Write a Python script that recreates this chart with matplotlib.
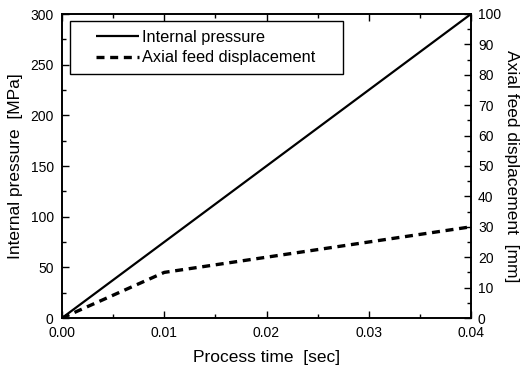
import matplotlib
matplotlib.use("Agg")
import matplotlib.pyplot as plt
from matplotlib.ticker import MultipleLocator
from matplotlib.patches import Rectangle

plt.rcParams['font.family'] = ['Liberation Sans', 'DejaVu Sans']

time_s = [0.0, 0.04]
pressure_mpa = [0.0, 300.0]
feed_time_s = [0.0, 0.01, 0.04]
feed_mm = [0.0, 15.0, 30.0]

fig = plt.figure(figsize=(5.23, 3.71), dpi=100)
ax = fig.add_axes([62/523, 1-318/371, (471-62)/523, (318-14)/371])
ax2 = ax.twinx()

l1, = ax.plot(time_s, pressure_mpa, color='black', lw=1.6, solid_capstyle='butt')
l2, = ax2.plot(feed_time_s, feed_mm, color='black', lw=2.4, linestyle=(0, (2.4, 1.7)))

ax.set_xlim(0, 0.04)
ax.set_ylim(0, 300)
ax2.set_ylim(0, 100)

ax.xaxis.set_major_locator(MultipleLocator(0.01))
ax.xaxis.set_minor_locator(MultipleLocator(0.005))
ax.yaxis.set_major_locator(MultipleLocator(50))
ax.yaxis.set_minor_locator(MultipleLocator(25))
ax2.yaxis.set_major_locator(MultipleLocator(10))
ax2.yaxis.set_minor_locator(MultipleLocator(5))
ax.xaxis.set_major_formatter(matplotlib.ticker.FormatStrFormatter('%.2f'))

ax.tick_params(which='both', direction='in', top=True, labelsize=10)
ax.tick_params(axis='x', pad=6)
ax.tick_params(axis='y', pad=6)
ax.tick_params(which='major', length=5, width=1)
ax.tick_params(which='minor', length=3, width=1)
ax2.tick_params(which='both', direction='in', labelsize=10, pad=5)
ax2.tick_params(which='major', length=5, width=1)
ax2.tick_params(which='minor', length=3, width=1)

for a in (ax, ax2):
    for s in a.spines.values():
        s.set_linewidth(1.2)

ax.set_xlabel('Process time  [sec]', fontsize=12.5, labelpad=7)
ax.set_ylabel('Internal pressure  [MPa]', fontsize=12.5, labelpad=5)
ax2.set_ylabel('Axial feed displacement  [mm]', fontsize=12.5, rotation=270, labelpad=13)

# legend frame drawn separately to match the wide horizontal padding
frame = Rectangle((8/409, (318-74)/304), 273/409, 53/304, transform=ax.transAxes,
                  facecolor='white', edgecolor='black', lw=1.0, zorder=4)
ax2.add_patch(frame)
leg = ax2.legend([l1, l2], ['Internal pressure', 'Axial feed displacement'],
                 loc='upper left', bbox_to_anchor=((96-62)/409, (318-30)/304),
                 fontsize=11.8, frameon=False,
                 handlelength=2.6, handletextpad=0.2, borderpad=0.0,
                 labelspacing=0.32, borderaxespad=0)
leg.set_zorder(5)

fig.savefig('out.png', dpi=100)
